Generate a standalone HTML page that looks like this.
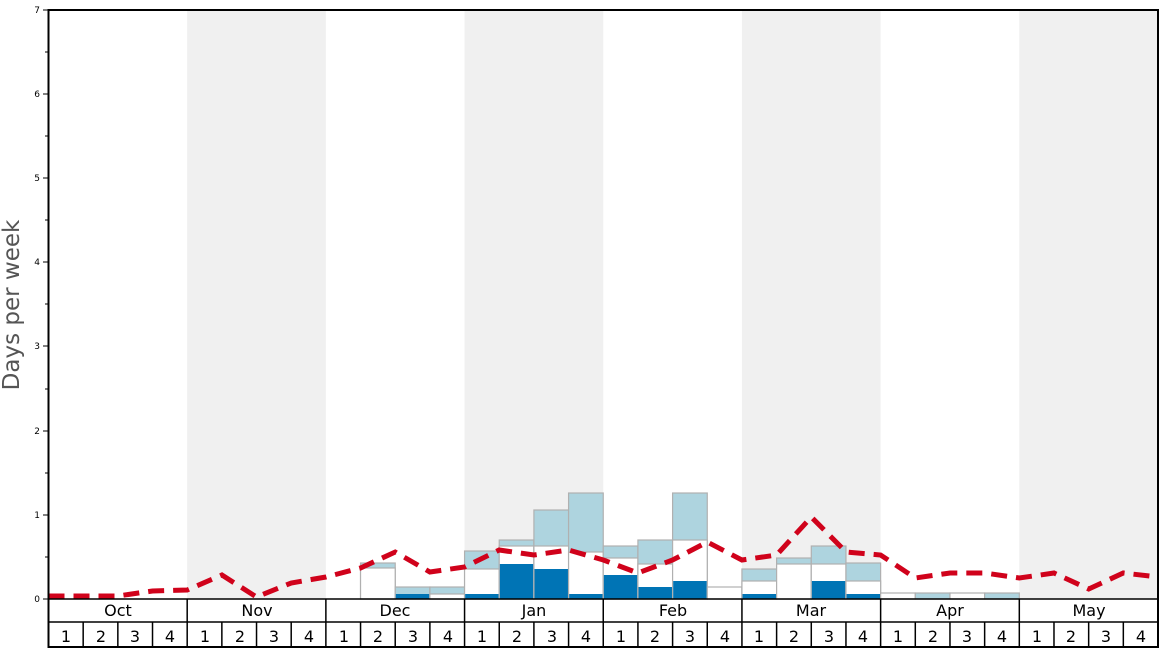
<!DOCTYPE html>
<html><head><meta charset="utf-8"><style>
html,body{margin:0;padding:0;background:#fff;}
svg{display:block;font-family:"DejaVu Sans","Liberation Sans",sans-serif;}
</style></head><body>
<svg id="s" width="1168" height="648" viewBox="0 0 1168 648">
<g id="bg"></g>
<g id="bars"></g>
<polyline id="red" fill="none" stroke="#d0021b" stroke-width="5" stroke-dasharray="16,9" points=""/>
<g stroke="#000" stroke-width="1">
<line x1="43" y1="10" x2="48.5" y2="10"/><line x1="45" y1="52" x2="48.5" y2="52"/>
<line x1="43" y1="94" x2="48.5" y2="94"/><line x1="45" y1="136" x2="48.5" y2="136"/>
<line x1="43" y1="178" x2="48.5" y2="178"/><line x1="45" y1="220" x2="48.5" y2="220"/>
<line x1="43" y1="262" x2="48.5" y2="262"/><line x1="45" y1="304" x2="48.5" y2="304"/>
<line x1="43" y1="346" x2="48.5" y2="346"/><line x1="45" y1="389" x2="48.5" y2="389"/>
<line x1="43" y1="431" x2="48.5" y2="431"/><line x1="45" y1="473" x2="48.5" y2="473"/>
<line x1="43" y1="515" x2="48.5" y2="515"/><line x1="45" y1="557" x2="48.5" y2="557"/>
<line x1="43" y1="599" x2="48.5" y2="599"/>
</g>
<g font-size="9" text-anchor="end" fill="#000">
<text x="40" y="13">7</text><text x="40" y="97">6</text><text x="40" y="181">5</text>
<text x="40" y="265">4</text><text x="40" y="349">3</text><text x="40" y="434">2</text>
<text x="40" y="518">1</text><text x="40" y="602">0</text>
</g>
<text transform="translate(19,305) rotate(-90)" font-size="23" fill="#555" text-anchor="middle">Days per week</text>
<g id="grid" stroke="#000"></g>
<g font-size="16" text-anchor="middle" fill="#000">
<text x="118" y="616">Oct</text><text x="257" y="616">Nov</text><text x="395" y="616">Dec</text><text x="534" y="616">Jan</text>
<text x="673" y="616">Feb</text><text x="811" y="616">Mar</text><text x="950" y="616">Apr</text><text x="1089" y="616">May</text>
</g>
<g id="wk" font-size="16" text-anchor="middle" fill="#000">
<text x="66" y="642">1</text><text x="101" y="642">2</text><text x="135" y="642">3</text><text x="170" y="642">4</text>
<text x="205" y="642">1</text><text x="240" y="642">2</text><text x="274" y="642">3</text><text x="309" y="642">4</text>
<text x="344" y="642">1</text><text x="378" y="642">2</text><text x="413" y="642">3</text><text x="448" y="642">4</text>
<text x="482" y="642">1</text><text x="517" y="642">2</text><text x="552" y="642">3</text><text x="586" y="642">4</text>
<text x="621" y="642">1</text><text x="655" y="642">2</text><text x="690" y="642">3</text><text x="725" y="642">4</text>
<text x="759" y="642">1</text><text x="794" y="642">2</text><text x="829" y="642">3</text><text x="863" y="642">4</text>
<text x="898" y="642">1</text><text x="933" y="642">2</text><text x="967" y="642">3</text><text x="1002" y="642">4</text>
<text x="1037" y="642">1</text><text x="1071" y="642">2</text><text x="1106" y="642">3</text><text x="1141" y="642">4</text>
</g>
</svg>
<script>
var NS="http://www.w3.org/2000/svg",L=48.5,W=(1158-48.5)/32;
function el(p,t,a){var e=document.createElementNS(NS,t);for(var k in a)e.setAttribute(k,a[k]);document.getElementById(p).appendChild(e);return e;}
[1,3,5,7].forEach(function(m){el("bg","rect",{x:L+m*4*W,y:10,width:4*W,height:589,fill:"#f0f0f0"});});
// [i, dark, white, light] tops
var B=[[9,null,568,563],[10,594,null,587],[11,null,594,587],[12,594,569,551],[13,564,546,540],[14,569,546,510],[15,594,552,493],
[16,575,558,546],[17,587,564,540],[18,581,540,493],[19,null,587,null],[20,594,581,569],[21,null,564,558],[22,581,564,546],[23,594,581,563],
[24,null,593,null],[25,null,null,593],[26,null,593,null],[27,null,null,593]];
B.forEach(function(b){var x=L+b[0]*W;
 if(b[3]!=null)el("bars","rect",{x:x,y:b[3],width:W,height:599-b[3],fill:"#aed4df",stroke:"#b0b0b0","stroke-width":1.2});
 if(b[2]!=null)el("bars","rect",{x:x,y:b[2],width:W,height:599-b[2],fill:"#fff",stroke:"#b0b0b0","stroke-width":1.2});
 if(b[1]!=null)el("bars","rect",{x:x+0.6,y:b[1],width:W-1.2,height:599-b[1],fill:"#0074b5"});
});
var Y=[596,596,596,591,590,575,597,583,577,568,552,572,567,550,555,550,560,573,560,542,560,555,517,552,555,578,573,573,578,573,589,573,577];
document.getElementById("red").setAttribute("points",Y.map(function(y,i){return (L+i*W).toFixed(1)+","+y}).join(" "));
el("grid","rect",{x:L,y:10,width:1158-L,height:637,fill:"none","stroke-width":2});
el("grid","line",{x1:L,y1:599,x2:1158,y2:599,"stroke-width":1.5});
el("grid","line",{x1:L,y1:622,x2:1158,y2:622,"stroke-width":1.5});
for(var i=1;i<32;i++){var x=L+i*W;el("grid","line",{x1:x,y1:i%4==0?599:622,x2:x,y2:647,"stroke-width":1.5});}
</script>
</body></html>
